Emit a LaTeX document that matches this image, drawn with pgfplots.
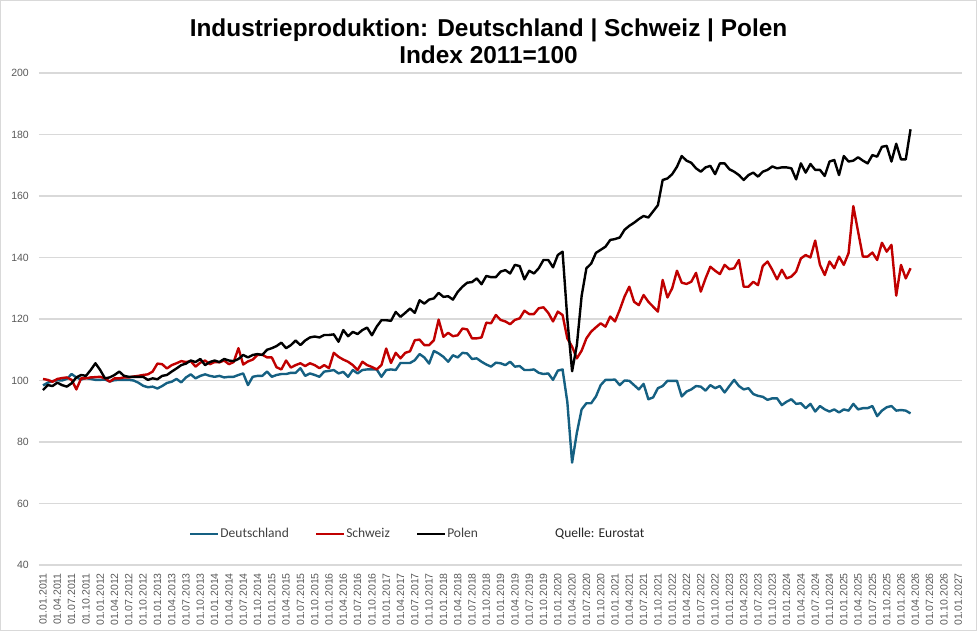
\documentclass[border=0pt]{standalone}
\usepackage{fontspec}
\setmainfont{Liberation Sans}
\newfontfamily\carlito{Carlito}
\usepackage{pgfplots}
\usepackage{pgfplotstable}
\pgfplotsset{compat=1.18}
\definecolor{deu}{HTML}{156082}
\definecolor{sch}{HTML}{C00000}
\definecolor{tickgray}{HTML}{595959}
\definecolor{leggray}{HTML}{404040}
\definecolor{gridgray}{HTML}{D9D9D9}

\pgfplotstableread{
m de ch pl
0 98.4 100.5 96.9
1 99.3 100.2 98.5
2 99.8 99.6 98.2
3 100.1 100.5 99.3
4 100.0 100.8 98.5
5 100.5 101.0 98.0
6 102.1 100.2 99.1
7 101.0 97.1 101.0
8 100.3 100.7 101.8
9 100.8 100.7 101.5
10 100.5 101.0 103.4
11 100.2 101.1 105.6
12 100.2 101.2 103.4
13 100.3 100.7 100.7
14 99.7 99.6 101.0
15 100.1 100.7 101.8
16 100.2 100.7 102.9
17 100.2 101.0 101.5
18 100.2 101.0 101.2
19 100.0 101.3 101.2
20 99.3 101.5 101.2
21 98.3 101.8 101.2
22 97.8 102.0 100.2
23 98.0 102.9 100.7
24 97.4 105.5 100.4
25 98.2 105.3 101.5
26 99.2 103.9 101.8
27 99.6 105.0 102.9
28 100.5 105.6 103.9
29 99.4 106.3 105.0
30 101.0 106.0 105.5
31 102.0 106.3 106.5
32 100.7 104.5 106.0
33 101.5 105.8 107.0
34 102.0 106.5 105.0
35 101.5 105.3 106.0
36 101.2 106.0 106.5
37 101.5 105.9 106.0
38 101.0 106.5 107.0
39 101.2 105.3 106.5
40 101.2 106.0 106.3
41 101.8 110.5 107.0
42 102.3 105.2 108.3
43 98.5 106.2 107.5
44 101.2 106.8 108.3
45 101.5 108.3 108.6
46 101.5 108.4 108.3
47 102.9 107.5 110.0
48 101.2 107.5 110.5
49 101.8 104.3 111.2
50 102.1 103.6 112.3
51 102.1 106.5 110.5
52 102.5 104.2 111.5
53 102.5 105.0 113.0
54 104.0 105.6 111.5
55 101.5 104.7 113.0
56 102.3 105.6 114.0
57 101.8 105.0 114.3
58 101.2 104.0 114.0
59 102.9 105.0 114.8
60 103.1 104.0 114.8
61 103.4 109.0 115.0
62 102.3 107.7 112.6
63 102.8 106.8 116.4
64 101.2 106.1 114.4
65 103.4 105.0 115.8
66 102.3 103.4 115.1
67 103.4 106.1 116.4
68 103.6 105.0 117.2
69 103.6 104.4 114.7
70 103.6 103.6 117.5
71 101.2 105.0 119.6
72 103.4 110.4 119.6
73 103.6 105.7 119.4
74 103.4 109.0 122.3
75 105.7 107.2 120.7
76 105.7 109.0 122.0
77 105.7 109.5 123.4
78 106.6 113.1 122.0
79 108.6 113.3 126.1
80 107.5 111.5 125.0
81 105.5 111.5 126.3
82 109.6 113.1 126.7
83 108.8 119.8 128.5
84 107.7 114.2 127.2
85 106.1 115.5 127.4
86 108.2 114.4 126.3
87 107.5 114.7 128.8
88 109.0 116.9 130.5
89 108.8 116.6 131.8
90 107.0 113.7 132.0
91 107.2 113.7 133.2
92 106.1 114.0 131.3
93 105.2 118.8 134.0
94 104.5 118.6 133.6
95 105.8 121.3 133.6
96 105.6 119.7 135.4
97 105.0 119.2 135.9
98 106.1 118.3 134.8
99 104.5 119.7 137.6
100 104.7 120.2 137.2
101 103.4 122.7 132.9
102 103.4 121.6 135.7
103 103.6 121.6 134.8
104 102.5 123.5 136.5
105 102.1 123.8 139.2
106 102.3 122.0 139.2
107 100.2 119.2 136.8
108 103.2 122.4 140.8
109 103.6 121.3 141.9
110 93.0 113.7 120.0
111 73.3 111.0 103.0
112 83.0 107.2 111.5
113 90.6 109.7 127.5
114 92.6 113.7 136.5
115 92.6 115.9 138.0
116 94.8 117.3 141.5
117 98.5 118.6 142.5
118 100.2 117.5 143.5
119 100.2 120.8 145.7
120 100.3 119.2 146.0
121 98.5 123.0 146.5
122 100.0 127.3 149.0
123 99.9 130.5 150.3
124 98.5 125.6 151.3
125 97.1 124.5 152.5
126 98.9 127.8 153.5
127 93.9 125.6 153.0
128 94.5 124.0 155.0
129 97.5 122.4 157.0
130 98.2 132.7 165.2
131 99.9 127.0 165.7
132 99.9 130.0 167.1
133 99.9 135.7 169.5
134 94.8 131.8 173.0
135 96.4 131.4 171.5
136 97.1 132.1 170.8
137 98.2 135.0 169.0
138 98.0 128.9 167.9
139 96.7 133.2 169.3
140 98.5 137.0 169.8
141 97.5 135.7 167.1
142 98.2 134.6 170.6
143 96.1 137.6 170.6
144 98.2 136.2 168.7
145 100.2 136.5 167.9
146 98.2 139.2 166.8
147 97.1 130.5 165.2
148 97.5 130.5 166.8
149 95.6 132.1 167.6
150 95.0 131.0 166.3
151 94.7 137.2 167.9
152 93.7 138.7 168.5
153 94.2 136.0 169.6
154 94.2 132.9 169.0
155 92.0 136.0 169.3
156 93.1 133.2 169.3
157 93.9 133.8 169.0
158 92.4 135.4 165.4
159 92.6 139.7 170.6
160 91.0 140.8 167.6
161 92.4 140.0 170.4
162 89.9 145.5 168.5
163 91.7 137.6 168.5
164 90.6 134.3 166.5
165 89.9 138.7 171.2
166 90.6 136.5 171.7
167 89.6 140.3 166.8
168 90.6 137.6 173.0
169 90.2 141.4 171.2
170 92.4 156.7 171.5
171 90.6 148.4 172.6
172 91.0 140.3 171.5
173 91.0 140.3 170.6
174 91.7 141.6 173.3
175 88.4 139.2 172.8
176 90.2 144.8 176.0
177 91.3 141.9 176.3
178 91.7 144.1 171.2
179 90.2 127.6 177.0
180 90.4 137.6 171.9
181 90.2 133.2 171.9
182 89.3 136.5 181.7
}\data

\begin{document}
\begin{tikzpicture}[x=1pt,y=1pt]
\draw[gridgray, line width=1pt] (0.5,0.5) rectangle (976.5,630.5);
\node[anchor=base, inner sep=0pt, font=\fontsize{24.4}{28}\selectfont\bfseries] at (488.5,594.5) {Industrieproduktion: Deutschland | Schweiz | Polen};
\node[anchor=base, inner sep=0pt, font=\fontsize{24.4}{28}\selectfont\bfseries] at (488.5,567) {Index 2011=100};
\begin{axis}[
  at={(39pt,66pt)}, anchor=south west,
  scale only axis, width=923pt, height=492pt,
  xmin=-0.84, xmax=192.8, ymin=40, ymax=200,
  ytick={40,60,...,200},
  xtick={0,3,...,192},
  xticklabels={01.01.2011,01.04.2011,01.07.2011,01.10.2011,01.01.2012,01.04.2012,01.07.2012,01.10.2012,01.01.2013,01.04.2013,01.07.2013,01.10.2013,01.01.2014,01.04.2014,01.07.2014,01.10.2014,01.01.2015,01.04.2015,01.07.2015,01.10.2015,01.01.2016,01.04.2016,01.07.2016,01.10.2016,01.01.2017,01.04.2017,01.07.2017,01.10.2017,01.01.2018,01.04.2018,01.07.2018,01.10.2018,01.01.2019,01.04.2019,01.07.2019,01.10.2019,01.01.2020,01.04.2020,01.07.2020,01.10.2020,01.01.2021,01.04.2021,01.07.2021,01.10.2021,01.01.2022,01.04.2022,01.07.2022,01.10.2022,01.01.2023,01.04.2023,01.07.2023,01.10.2023,01.01.2024,01.04.2024,01.07.2024,01.10.2024,01.01.2025,01.04.2025,01.07.2025,01.10.2025,01.01.2026,01.04.2026,01.07.2026,01.10.2026,01.01.2027},
  axis line style={draw=none},
  tick style={draw=none},
  ymajorgrids, major grid style={gridgray, line width=1.3pt},
  /pgf/number format/assume math mode=true,
  ticklabel style={font=\fontsize{10.5}{12}\selectfont, text=tickgray},
  xticklabel style={rotate=90, anchor=east, inner sep=0pt},
  yticklabel style={anchor=east, inner sep=0pt},
  xticklabel shift=8pt, yticklabel shift=10pt,
  legend columns=3,
  legend style={at={(axis description cs:0.1625,0.063)}, anchor=west, draw=none, fill=none,
    inner sep=0pt, outer sep=0pt, font=\carlito\fontsize{13.5}{15}\selectfont, text=leggray,
    nodes={inner xsep=1pt, inner ysep=0pt},
    /tikz/every even column/.append style={column sep=25pt}},
  legend image code/.code={\draw[#1] (0pt,0pt) -- (28pt,0pt);},
]
\addplot[deu, line width=2.4pt, line join=round] table[x=m,y=de]{\data};
\addlegendentry{Deutschland}
\addplot[sch, line width=2.4pt, line join=round] table[x=m,y=ch]{\data};
\addlegendentry{Schweiz}
\addplot[black, line width=2.4pt, line join=round] table[x=m,y=pl]{\data};
\addlegendentry{Polen}
\node[anchor=west, inner sep=0pt, font=\carlito\fontsize{13.5}{15}\selectfont, text=black!85] at (axis description cs:0.559,0.063) {Quelle: Eurostat};
\end{axis}
\end{tikzpicture}
\end{document}
